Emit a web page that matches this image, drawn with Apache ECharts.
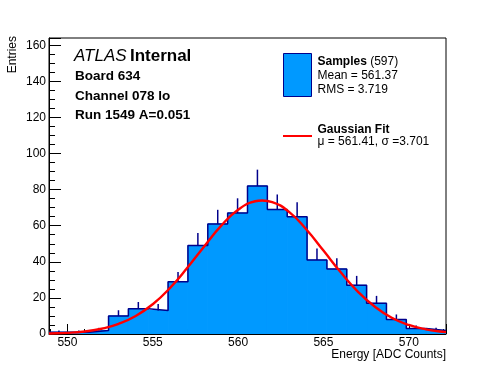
<!DOCTYPE html>
<html>
<head>
<meta charset="utf-8">
<script src="https://cdn.jsdelivr.net/npm/echarts@6/dist/echarts.min.js"></script>
<style>html,body{margin:0;padding:0;background:#fff}#c{width:496px;height:372px}</style>
</head>
<body>
<div id="c"></div>
<script>
// ---- data ----
var xMin = 548.92, xMax = 572.18;      // histogram range [ADC counts]
var nBins = 20;
var counts = [1, 1, 2, 10, 14, 13, 29, 49, 61, 67, 82, 69, 65, 41, 36, 27, 17, 8, 3, 2];
var yMax = 164;
// Gaussian fit curve
var fitX = [548.92, 549, 550, 551, 552, 553, 554, 555, 556, 557, 558, 559, 560, 561, 561.41, 562, 563, 564, 565, 566, 567, 568, 569, 570, 571, 572, 572.18];
var fitY = [0.25, 0.27, 0.64, 1.42, 2.92, 5.60, 9.97, 16.5, 25.4, 36.4, 48.4, 59.9, 68.8, 73.55, 74.0, 73.1, 67.5, 57.9, 46.2, 34.3, 23.65, 15.2, 9.04, 5.0, 2.58, 1.23, 1.07];
var xTickLabels = ['550', '555', '560', '565', '570'];
var yTickLabels = ['0', '20', '40', '60', '80', '100', '120', '140', '160'];

var FONT = 'Liberation Sans, Arial, Helvetica, sans-serif';
var FILL = '#0099ff', NAVY = '#00008b', RED = '#ff0000';

var bw = (xMax - xMin) / nBins;
var bins = counts.map(function (c, i) { return [xMin + i * bw, xMin + (i + 1) * bw, c]; });
var outline = [];
bins.forEach(function (b) { outline.push([b[0], b[2]]); outline.push([b[1], b[2]]); });
var fitData = fitX.map(function (x, i) { return [x, fitY[i]]; });

var chart = echarts.init(document.getElementById('c'), null, {renderer: 'canvas'});
chart.setOption({
  animation: false,
  backgroundColor: '#fff',
  grid: {left: 49, right: 50, top: 38, bottom: 38, show: true, borderColor: '#000', borderWidth: 1, backgroundColor: 'transparent'},
  xAxis: {
    type: 'value', min: xMin, max: xMax, splitNumber: 5,
    axisLine: {show: true, lineStyle: {color: '#000', width: 1}},
    axisTick: {show: true, inside: true, length: 10, lineStyle: {color: '#000'}},
    minorTick: {show: true, splitNumber: 5, length: 5, lineStyle: {color: '#000'}},
    splitLine: {show: false},
    axisLabel: {
      margin: 3, color: '#000', fontSize: 12, fontFamily: FONT,
      showMinLabel: false, showMaxLabel: false,
      formatter: function (v) { var s = String(Math.round(v)); return xTickLabels.indexOf(s) >= 0 && Math.abs(v - Math.round(v)) < 1e-6 ? s : ''; }
    }
  },
  yAxis: {
    type: 'value', min: 0, max: yMax, splitNumber: 8,
    axisLine: {show: true, lineStyle: {color: '#000', width: 1}},
    axisTick: {show: true, inside: true, length: 12, lineStyle: {color: '#000'}},
    minorTick: {show: true, splitNumber: 4, length: 6, lineStyle: {color: '#000'}},
    splitLine: {show: false},
    axisLabel: {
      margin: 3, color: '#000', fontSize: 12, fontFamily: FONT,
      showMaxLabel: false,
      formatter: function (v) { var s = String(Math.round(v)); return yTickLabels.indexOf(s) >= 0 && Math.abs(v - Math.round(v)) < 1e-6 ? s : ''; }
    }
  },
  series: [
    {
      type: 'custom', name: 'Samples', data: bins, encode: {x: [0, 1], y: 2}, clip: true, z: 1,
      renderItem: function (params, api) {
        var p0 = api.coord([api.value(0), api.value(2)]);
        var p1 = api.coord([api.value(1), 0]);
        return {type: 'rect', shape: {x: p0[0], y: p0[1], width: p1[0] - p0[0], height: p1[1] - p0[1]}, style: {fill: FILL, stroke: FILL, lineWidth: 1}};
      }
    },
    {
      type: 'custom', name: 'errors', data: bins, encode: {x: [0, 1], y: 2}, clip: true, z: 2,
      renderItem: function (params, api) {
        var xc = (api.value(0) + api.value(1)) / 2, n = api.value(2);
        var a = api.coord([xc, n]), b = api.coord([xc, n + Math.sqrt(n)]);
        return {type: 'line', shape: {x1: a[0], y1: a[1], x2: b[0], y2: b[1]}, style: {stroke: NAVY, lineWidth: 1.5}};
      }
    },
    {
      type: 'line', name: 'outline', data: outline, symbol: 'none', z: 3,
      lineStyle: {color: NAVY, width: 1.5}, silent: true
    },
    {
      type: 'line', name: 'Gaussian Fit', data: fitData, symbol: 'none', smooth: true, z: 4,
      lineStyle: {color: RED, width: 2.4}, silent: true
    }
  ],
  graphic: [
    {type: 'text', left: 74, top: 48, style: {text: '{a|ATLAS} {b|Internal}', rich: {
      a: {fontFamily: FONT, fontSize: 17, fontStyle: 'italic', fill: '#000'},
      b: {fontFamily: FONT, fontSize: 17, fontWeight: 'bold', fill: '#000'}}}},
    {type: 'text', x: 75, y: 76.5, style: {text: 'Board 634', fontFamily: FONT, fontSize: 13.5, fontWeight: 'bold', fill: '#000', verticalAlign: 'middle'}},
    {type: 'text', x: 75, y: 96, style: {text: 'Channel 078 lo', fontFamily: FONT, fontSize: 13.5, fontWeight: 'bold', fill: '#000', verticalAlign: 'middle'}},
    {type: 'text', x: 75, y: 115, style: {text: 'Run 1549 A=0.051', fontFamily: FONT, fontSize: 13.5, fontWeight: 'bold', fill: '#000', verticalAlign: 'middle'}},
    {type: 'rect', shape: {x: 283.5, y: 53.5, width: 28, height: 43}, style: {fill: FILL, stroke: NAVY, lineWidth: 1}},
    {type: 'text', x: 317.5, y: 62, style: {text: '{b|Samples} {r|(597)}', verticalAlign: 'middle', rich: {
      b: {fontFamily: FONT, fontSize: 12, fontWeight: 'bold', fill: '#000'},
      r: {fontFamily: FONT, fontSize: 12, fill: '#000'}}}},
    {type: 'text', x: 317.5, y: 76, style: {text: 'Mean = 561.37', fontFamily: FONT, fontSize: 12, fill: '#000', verticalAlign: 'middle'}},
    {type: 'text', x: 317.5, y: 90, style: {text: 'RMS = 3.719', fontFamily: FONT, fontSize: 12, fill: '#000', verticalAlign: 'middle'}},
    {type: 'line', shape: {x1: 283, y1: 136, x2: 312, y2: 136}, style: {stroke: RED, lineWidth: 2}},
    {type: 'text', x: 317.5, y: 129.5, style: {text: 'Gaussian Fit', fontFamily: FONT, fontSize: 12, fontWeight: 'bold', fill: '#000', verticalAlign: 'middle'}},
    {type: 'text', x: 317.5, y: 142, style: {text: 'μ = 561.41, σ =3.701', fontFamily: FONT, fontSize: 12, fill: '#000', verticalAlign: 'middle'}},
    {type: 'text', x: 13, y: 36, rotation: Math.PI / 2, style: {text: 'Entries', fontFamily: FONT, fontSize: 12, fill: '#000', align: 'right', verticalAlign: 'middle'}},
    {type: 'text', x: 446, y: 355, style: {text: 'Energy [ADC Counts]', fontFamily: FONT, fontSize: 12, fill: '#000', align: 'right', verticalAlign: 'middle'}}
  ]
});
</script>
</body>
</html>
